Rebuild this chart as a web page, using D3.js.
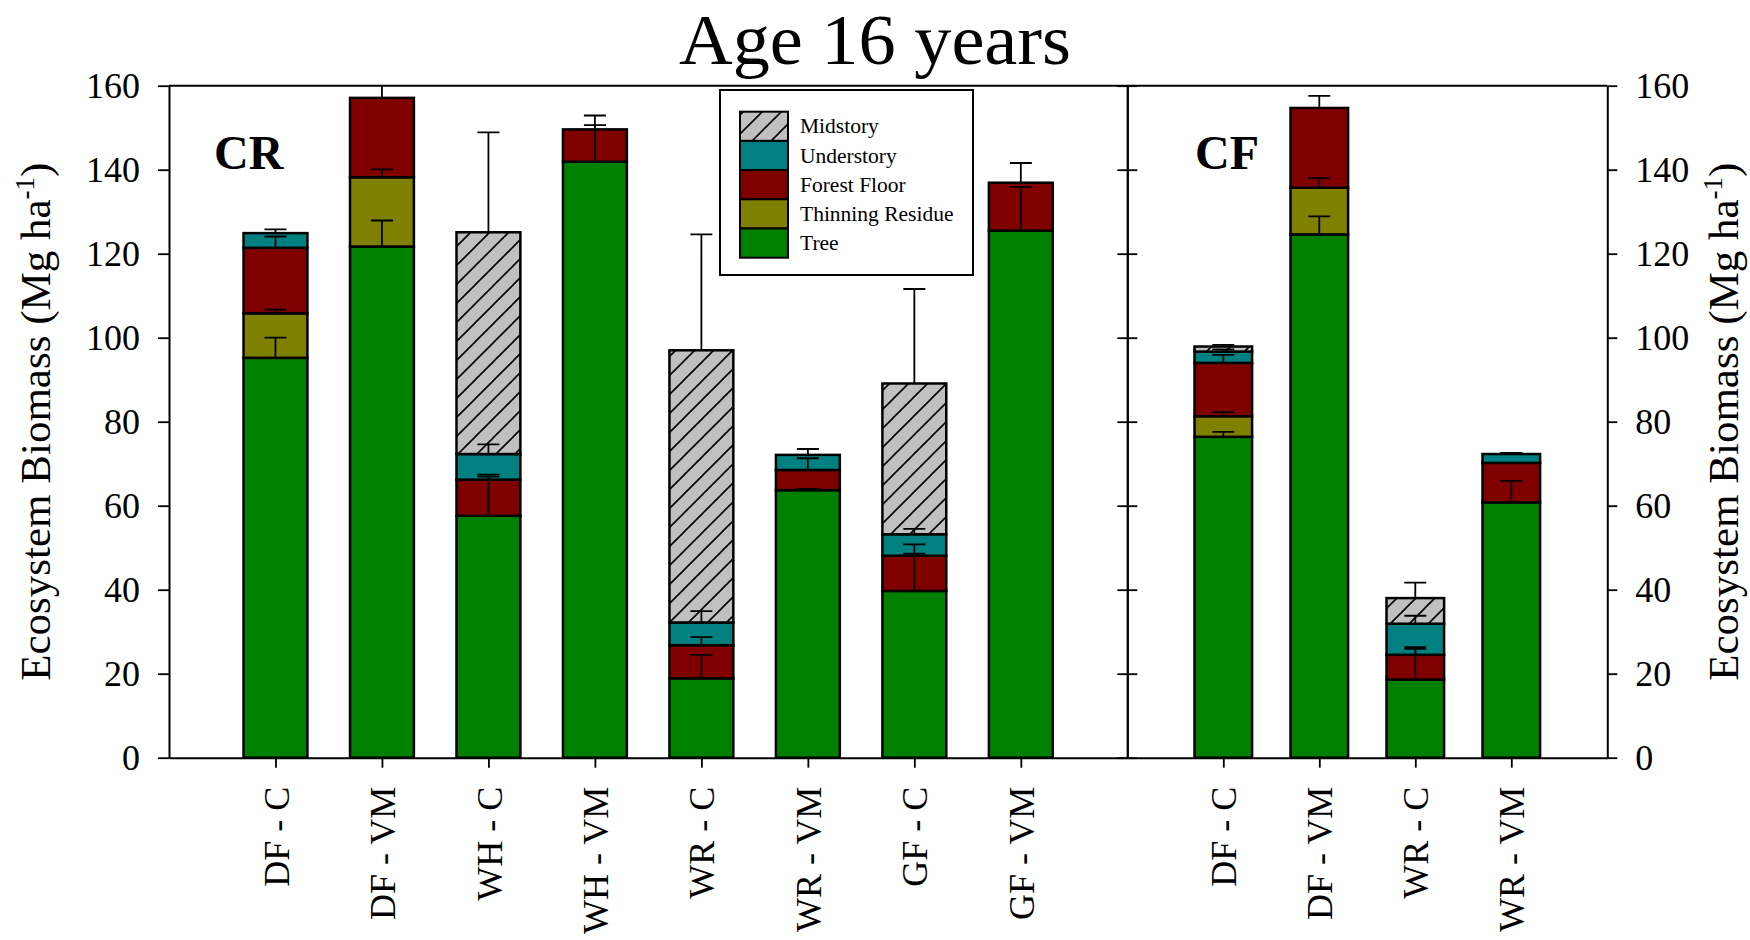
<!DOCTYPE html>
<html>
<head>
<meta charset="utf-8">
<script src="https://cdn.jsdelivr.net/npm/d3@7"></script>
<style>
  html, body { margin: 0; padding: 0; background: #fff; }
  svg text { font-family: "Liberation Serif", "Times New Roman", serif; fill: #000; }
</style>
</head>
<body>
<svg id="chart" width="1750" height="940"></svg>
<script>
// ---- Data (Mg ha-1) ----
const components = ["Tree", "Thinning Residue", "Forest Floor", "Understory", "Midstory"];

const crCategories = ["DF - C", "DF - VM", "WH - C", "WH - VM", "WR - C", "WR - VM", "GF - C", "GF - VM"];
const crTree      = [95.2, 121.7, 57.6, 141.9, 18.9, 63.7, 39.7, 125.5];
const crResidue   = [10.6, 16.5, 0, 0, 0, 0, 0, 0];
const crFloor     = [15.6, 18.9, 8.6, 7.7, 7.9, 4.8, 8.4, 11.4];
const crUnder     = [3.5, 0, 6.1, 0, 5.4, 3.6, 5.1, 0];
const crMid       = [0, 0, 52.8, 0, 64.8, 0, 35.9, 0];
const crTreeErr    = [4.8, 6.2, 9.8, 8.7, 5.6, 0.3, 8.9, 10.4];
const crResidueErr = [0.9, 1.9, 0, 0, 0, 0, 0, 0];
const crFloorErr   = [2.7, 4.0, 0.7, 3.3, 1.9, 2.8, 2.7, 4.7];
const crUnderErr   = [0.9, 0, 2.3, 0, 2.7, 1.4, 1.3, 0];
const crMidErr     = [0, 0, 23.8, 0, 27.6, 0, 22.5, 0];

const cfCategories = ["DF - C", "DF - VM", "WR - C", "WR - VM"];
const cfTree      = [76.4, 124.6, 18.6, 60.8];
const cfResidue   = [4.9, 11.1, 0, 0];
const cfFloor     = [12.7, 19.0, 5.9, 9.4];
const cfUnder     = [2.7, 0, 7.4, 2.1];
const cfMid       = [1.2, 0, 6.1, 0];
const cfTreeErr    = [1.2, 4.3, 7.3, 5.1];
const cfResidueErr = [1.0, 2.3, 0, 0];
const cfFloorErr   = [1.9, 2.9, 1.8, 0];
const cfUnderErr   = [0.5, 0, 1.9, 0.3];
const cfMidErr     = [0.4, 0, 3.7, 0];

const yTicks = [0, 20, 40, 60, 80, 100, 120, 140, 160];

// ---- Layout ----
const svg = d3.select("#chart");
const plotLeft = 169, plotDivider = 1127.3, plotRight = 1607.3, plotTop = 85.7, plotBottom = 757.7;

const colors = {
  "Tree": "#008000",
  "Thinning Residue": "#808000",
  "Forest Floor": "#800000",
  "Understory": "#008080",
  "Midstory": "#c0c0c0"
};

const y = d3.scaleLinear().domain([0, 160]).range([plotBottom, plotTop]);
const xCR = d3.scalePoint().domain(crCategories).range([plotLeft, plotDivider]).padding(1);
const xCF = d3.scalePoint().domain(cfCategories).range([plotDivider, plotRight]).padding(1);

// Hatch for midstory
const defs = svg.append("defs");
const hatch = defs.append("pattern")
  .attr("id", "hatch").attr("patternUnits", "userSpaceOnUse")
  .attr("width", 19).attr("height", 19);
hatch.append("rect").attr("width", 19).attr("height", 19).attr("fill", colors["Midstory"]);
hatch.append("path")
  .attr("d", "M0,19 L19,0 M-5,5 L5,-5 M14,24 L24,14")
  .attr("stroke", "#000").attr("stroke-width", 1.6);

defs.append("clipPath").attr("id", "plotClip")
  .append("rect").attr("x", plotLeft).attr("y", plotTop)
  .attr("width", plotRight - plotLeft).attr("height", plotBottom - plotTop);

function buildRows(cats, tree, res, ff, us, ms, eTree, eRes, eFf, eUs, eMs) {
  return cats.map((c, i) => ({
    cat: c,
    parts: [
      { key: "Tree", v: tree[i], e: eTree[i] },
      { key: "Thinning Residue", v: res[i], e: eRes[i] },
      { key: "Forest Floor", v: ff[i], e: eFf[i] },
      { key: "Understory", v: us[i], e: eUs[i] },
      { key: "Midstory", v: ms[i], e: eMs[i] }
    ]
  }));
}

function drawPanel(rows, x) {
  const bw = x.step() * 0.6;
  const g = svg.append("g").attr("clip-path", "url(#plotClip)");
  const segs = [];
  rows.forEach(r => {
    let base = 0;
    r.parts.forEach(p => {
      if (p.v > 0) {
        segs.push({ cat: r.cat, key: p.key, y0: base, y1: base + p.v, e: p.e });
      }
      base += p.v;
    });
  });
  g.selectAll("rect.seg").data(segs).join("rect")
    .attr("class", "seg")
    .attr("x", d => x(d.cat) - bw / 2)
    .attr("width", bw)
    .attr("y", d => y(d.y1))
    .attr("height", d => y(d.y0) - y(d.y1))
    .attr("fill", d => d.key === "Midstory" ? "url(#hatch)" : colors[d.key])
    .attr("stroke", "#000").attr("stroke-width", 2.5);

  // error bars (upper side only), drawn over the stacked segments
  const errs = segs.filter(d => d.e > 0);
  const capW = 22;
  g.selectAll("path.err").data(errs).join("path")
    .attr("class", "err")
    .attr("d", d => {
      const cx = x(d.cat), yb = y(d.y1), yt = y(d.y1 + d.e);
      return `M${cx},${yb} L${cx},${yt} M${cx - capW / 2},${yt} L${cx + capW / 2},${yt}`;
    })
    .attr("fill", "none").attr("stroke", "#000").attr("stroke-width", 1.8);
}

drawPanel(buildRows(crCategories, crTree, crResidue, crFloor, crUnder, crMid,
  crTreeErr, crResidueErr, crFloorErr, crUnderErr, crMidErr), xCR);
drawPanel(buildRows(cfCategories, cfTree, cfResidue, cfFloor, cfUnder, cfMid,
  cfTreeErr, cfResidueErr, cfFloorErr, cfUnderErr, cfMidErr), xCF);

// ---- Axes ----
function styleAxis(sel) {
  sel.selectAll("path.domain").attr("stroke", "#000").attr("stroke-width", 2);
  sel.selectAll(".tick line").attr("stroke", "#000").attr("stroke-width", 1.8);
  sel.selectAll("text").attr("font-family", "Liberation Serif").attr("font-size", 36).attr("fill", "#000");
}

const yLeft = svg.append("g").attr("transform", `translate(${plotLeft},0)`)
  .call(d3.axisLeft(y).tickValues(yTicks).tickSize(11).tickSizeOuter(0).tickPadding(18));
styleAxis(yLeft);

const yRight = svg.append("g").attr("transform", `translate(${plotRight},0)`)
  .call(d3.axisRight(y).tickValues(yTicks).tickSize(10).tickSizeOuter(0).tickPadding(18));
styleAxis(yRight);

// divider between the two panels, ticks on both sides
const divL = svg.append("g").attr("transform", `translate(${plotDivider},0)`)
  .call(d3.axisLeft(y).tickValues(yTicks).tickSize(-10).tickSizeOuter(0).tickFormat(""));
styleAxis(divL);
const divR = svg.append("g").attr("transform", `translate(${plotDivider},0)`)
  .call(d3.axisLeft(y).tickValues(yTicks).tickSize(10).tickSizeOuter(0).tickFormat(""));
styleAxis(divR);

// top frame line
svg.append("line").attr("x1", plotLeft).attr("x2", plotRight).attr("y1", plotTop).attr("y2", plotTop)
  .attr("stroke", "#000").attr("stroke-width", 2);

function bottomAxis(x) {
  const g = svg.append("g").attr("transform", `translate(0,${plotBottom})`)
    .call(d3.axisBottom(x).tickSize(10).tickSizeOuter(0));
  styleAxis(g);
  g.selectAll(".tick text")
    .attr("transform", "rotate(-90)")
    .attr("x", -29).attr("y", 0).attr("dy", "0.35em")
    .attr("text-anchor", "end");
}
bottomAxis(xCR);
bottomAxis(xCF);

// ---- Titles and labels ----
svg.append("text").attr("x", 875).attr("y", 64)
  .attr("text-anchor", "middle").attr("font-size", 72)
  .attr("textLength", 392).attr("lengthAdjust", "spacingAndGlyphs")
  .text("Age 16 years");

svg.append("text").attr("x", 214).attr("y", 169)
  .attr("font-size", 48).attr("font-weight", "bold").text("CR");
svg.append("text").attr("x", 1195).attr("y", 169)
  .attr("font-size", 48).attr("font-weight", "bold").text("CF");

function yLabel(xPos) {
  const t = svg.append("text")
    .attr("transform", `translate(${xPos},${(plotTop + plotBottom) / 2}) rotate(-90)`)
    .attr("text-anchor", "middle").attr("font-size", 43);
  t.append("tspan").text("Ecosystem Biomass (Mg ha");
  t.append("tspan").attr("font-size", 27).attr("dy", -16).text("-1");
  t.append("tspan").attr("dy", 16).text(")");
}
yLabel(50);
yLabel(1738);

// ---- Legend ----
const legend = svg.append("g");
legend.append("rect").attr("x", 720).attr("y", 90).attr("width", 253).attr("height", 185)
  .attr("fill", "#fff").attr("stroke", "#000").attr("stroke-width", 2);
const legendOrder = ["Midstory", "Understory", "Forest Floor", "Thinning Residue", "Tree"];
const rowH = 29.2;
legendOrder.forEach((k, i) => {
  const yy = 111.7 + i * rowH;
  legend.append("rect").attr("x", 740).attr("y", yy).attr("width", 48).attr("height", rowH)
    .attr("fill", k === "Midstory" ? "url(#hatch)" : colors[k])
    .attr("stroke", "#000").attr("stroke-width", 2);
  legend.append("text").attr("x", 800).attr("y", yy + rowH / 2 + 7)
    .attr("font-size", 21.5).text(k);
});
</script>
</body>
</html>
